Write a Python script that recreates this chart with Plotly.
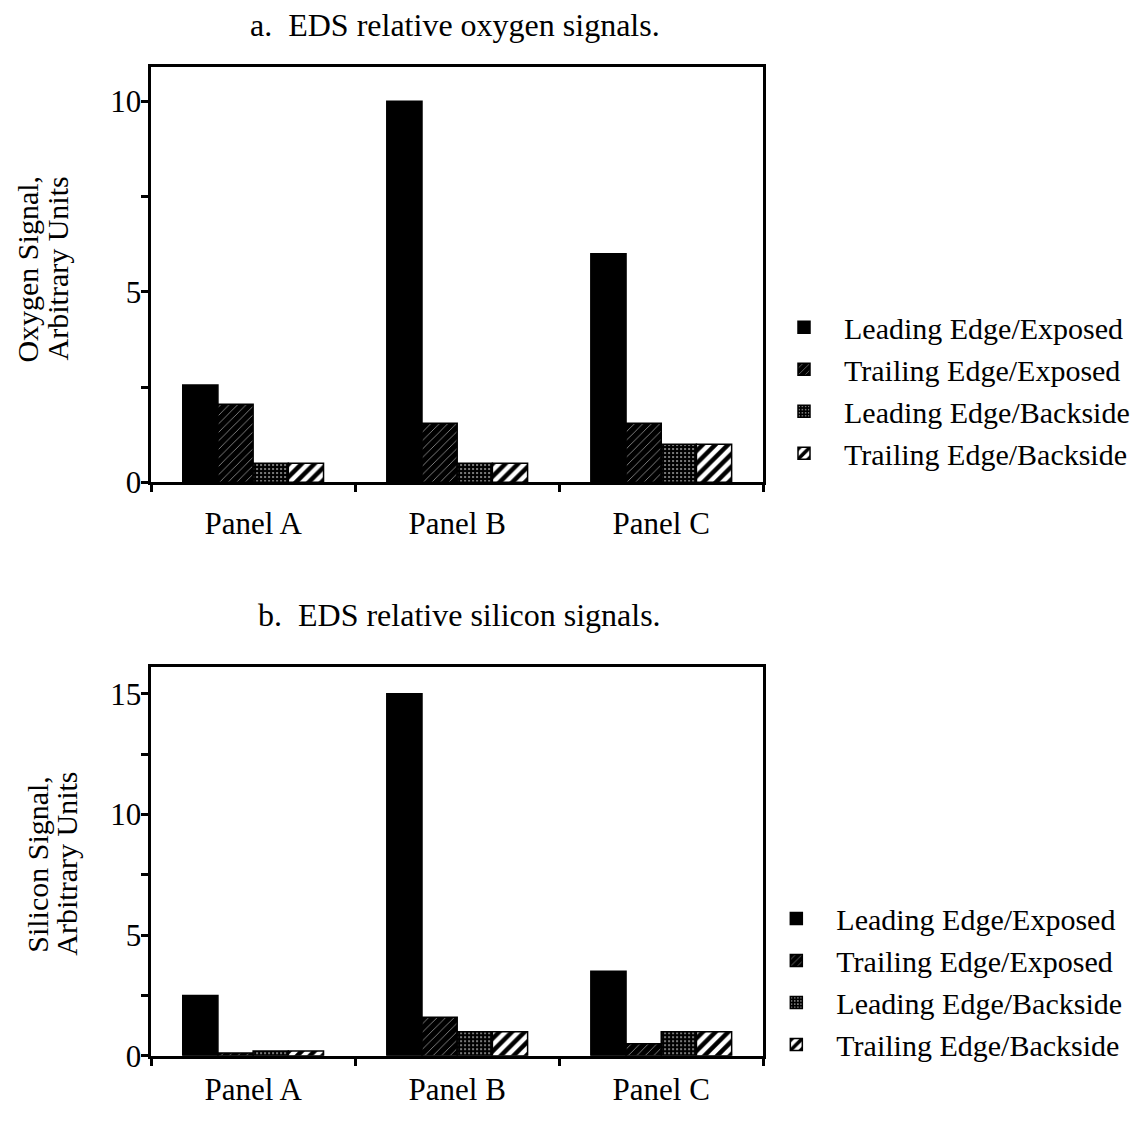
import plotly.graph_objects as go

categories = ["Panel A", "Panel B", "Panel C"]
series_names = ["Leading Edge/Exposed", "Trailing Edge/Exposed",
                "Leading Edge/Backside", "Trailing Edge/Backside"]

oxygen_le_exposed = [2.55, 10.0, 6.0]
oxygen_te_exposed = [2.05, 1.55, 1.55]
oxygen_le_backside = [0.5, 0.5, 1.0]
oxygen_te_backside = [0.5, 0.5, 1.0]

silicon_le_exposed = [2.5, 15.0, 3.5]
silicon_te_exposed = [0.12, 1.6, 0.5]
silicon_le_backside = [0.2, 1.0, 1.0]
silicon_te_backside = [0.2, 1.0, 1.0]

oxy_ticks = [0, 2.5, 5, 7.5, 10]
oxy_ticktext = ["0", "", "5", "", "10"]
si_ticks = [0, 2.5, 5, 7.5, 10, 12.5, 15]
si_ticktext = ["0", "", "5", "", "10", "", "15"]

FONT = "Liberation Serif, Times New Roman, serif"
OFF = 8
W, H = 1143 - 2 * OFF, 1134 - 2 * OFF

styles = [
    dict(color="black", pattern=dict(shape="")),
    dict(color="black", pattern=dict(shape="/", fgcolor="white", bgcolor="black",
                                     size=6, solidity=0.08, fillmode="replace")),
    dict(color="black", pattern=dict(shape=".", fgcolor="#aaaaaa", bgcolor="black",
                                     size=4, solidity=0.18, fillmode="replace")),
    dict(color="white", pattern=dict(shape="/", fgcolor="black", bgcolor="white",
                                     size=9, solidity=0.5, fillmode="replace")),
]

fig = go.Figure()

oxy_series = [oxygen_le_exposed, oxygen_te_exposed, oxygen_le_backside, oxygen_te_backside]
si_series = [silicon_le_exposed, silicon_te_exposed, silicon_le_backside, silicon_te_backside]

for i, (name, vals) in enumerate(zip(series_names, oxy_series)):
    st = styles[i]
    fig.add_trace(go.Bar(
        x=categories, y=vals, name=name, xaxis="x", yaxis="y",
        legend="legend", legendgroup="a%d" % i,
        marker=dict(color=st["color"], pattern=st["pattern"],
                    line=dict(color="black", width=1.5)),
    ))

for i, (name, vals) in enumerate(zip(series_names, si_series)):
    st = styles[i]
    fig.add_trace(go.Bar(
        x=categories, y=vals, name=name, xaxis="x2", yaxis="y2",
        legend="legend2", legendgroup="b%d" % i,
        marker=dict(color=st["color"], pattern=st["pattern"],
                    line=dict(color="black", width=1.5)),
    ))

def px_x(p):
    return (p - OFF) / W

def px_y(p):
    return 1 - (p - OFF) / H

xdom = [px_x(152), px_x(768)]
axis_common = dict(showline=True, linecolor="black", linewidth=2.5, mirror=True,
                   ticks="outside", tickcolor="black", tickwidth=2.5, ticklen=7,
                   showgrid=False, zeroline=False,
                   tickfont=dict(family=FONT, size=31, color="black"))

fig.update_layout(
    width=W, height=H,
    margin=dict(l=0, r=0, t=0, b=0),
    paper_bgcolor="white", plot_bgcolor="white",
    barmode="group", bargap=0.31, bargroupgap=0,
    font=dict(family=FONT, color="black"),
    xaxis=dict(domain=xdom, anchor="y", type="category", tickson="boundaries",
               range=[-0.5, 2.5], ticklabelstandoff=12, **axis_common),
    yaxis=dict(domain=[px_y(490), px_y(68)], anchor="x", range=[0, 10.9],
               tickvals=oxy_ticks, ticktext=oxy_ticktext, ticklabelstandoff=-6,
               **axis_common),
    xaxis2=dict(domain=xdom, anchor="y2", type="category", tickson="boundaries",
                range=[-0.5, 2.5], ticklabelstandoff=4, **axis_common),
    yaxis2=dict(domain=[px_y(1073), px_y(678)], anchor="x2", range=[0, 16.1],
                tickvals=si_ticks, ticktext=si_ticktext, ticklabelstandoff=-6,
                **axis_common),
    legend=dict(x=px_x(769), y=px_y(306), xanchor="left", yanchor="top",
                font=dict(family=FONT, size=30, color="black"),
                tracegroupgap=0, itemwidth=70, bgcolor="rgba(0,0,0,0)"),
    legend2=dict(x=px_x(761), y=px_y(907), xanchor="left", yanchor="top",
                 font=dict(family=FONT, size=30, color="black"),
                 tracegroupgap=0, itemwidth=70, bgcolor="rgba(0,0,0,0)"),
    showlegend=True,
)

fig.add_annotation(text="a.  EDS relative oxygen signals.", x=px_x(458), y=px_y(25),
                   xref="paper", yref="paper", showarrow=False,
                   xanchor="center", yanchor="middle",
                   font=dict(family=FONT, size=32, color="black"))
fig.add_annotation(text="b.  EDS relative silicon signals.", x=px_x(462), y=px_y(625),
                   xref="paper", yref="paper", showarrow=False,
                   xanchor="center", yanchor="middle",
                   font=dict(family=FONT, size=32, color="black"))

ytitles = [
    ("Oxygen Signal,", 28, 273),
    ("Arbitrary Units", 58, 273),
    ("Silicon Signal,", 38, 878),
    ("Arbitrary Units", 67, 878),
]
for txt, xp, yp in ytitles:
    fig.add_annotation(text=txt, x=px_x(xp), y=px_y(yp),
                       xref="paper", yref="paper", showarrow=False, textangle=-90,
                       xanchor="center", yanchor="middle",
                       font=dict(family=FONT, size=30, color="black"))

fig.write_html("out.html")
